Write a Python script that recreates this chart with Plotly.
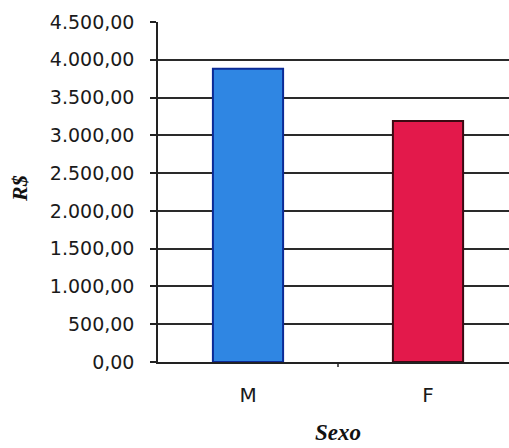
import plotly.graph_objects as go

categories = ["M", "F"]
values = [3880, 3190]
bar_colors = ["#2f86e3", "#e3194b"]
bar_line_colors = ["#0b2a96", "#3a0a12"]
y_tickvals = [0, 500, 1000, 1500, 2000, 2500, 3000, 3500, 4000, 4500]
y_ticktext = ["0,00", "500,00", "1.000,00", "1.500,00", "2.000,00", "2.500,00",
              "3.000,00", "3.500,00", "4.000,00", "4.500,00"]

fig = go.Figure()
fig.add_trace(go.Bar(
    x=[0, 1], y=values, width=0.39,
    marker=dict(color=bar_colors, line=dict(color=bar_line_colors, width=2)),
))

fig.update_layout(
    width=509, height=448,
    margin=dict(l=158, r=0, t=22, b=86),
    paper_bgcolor="white", plot_bgcolor="white",
    showlegend=False,
    font=dict(family="DejaVu Sans", size=18, color="#1a1a1a"),
)
fig.update_xaxes(
    range=[-0.5, 1.45],
    tickvals=[0, 1], ticktext=categories,
    ticks="", showgrid=False, zeroline=False,
    showline=True, linecolor="#222", linewidth=1.5,
    tickfont=dict(size=20),
    ticklabelstandoff=14,
)
fig.update_yaxes(
    range=[0, 4500],
    tickvals=y_tickvals, ticktext=y_ticktext,
    ticks="outside", ticklen=6, tickcolor="#222", tickwidth=1.5,
    showgrid=True, gridcolor="#2a2a2a", gridwidth=1.5,
    zeroline=False,
    showline=True, linecolor="#222", linewidth=1.5,
    tickfont=dict(size=19),
    ticklabelstandoff=12,
)
# tick between categories
fig.add_shape(type="line", xref="x", yref="paper", x0=0.5, x1=0.5, y0=0, y1=-0.015,
              line=dict(color="#222", width=1.5))
fig.add_annotation(text="<b><i>Sexo</i></b>", xref="x", yref="paper", x=0.5, y=-0.208,
                   showarrow=False, yanchor="middle",
                   font=dict(family="Liberation Serif", size=23, color="#111"))
fig.add_annotation(text="<b><i>R$</i></b>", xref="paper", yref="paper", x=-0.395, y=0.51,
                   xanchor="center", showarrow=False, textangle=-90,
                   font=dict(family="Liberation Serif", size=22, color="#111"))

fig.write_html("out.html", config={"displayModeBar": False},
               post_script="document.body.style.margin='0';document.body.style.overflow='hidden';")
